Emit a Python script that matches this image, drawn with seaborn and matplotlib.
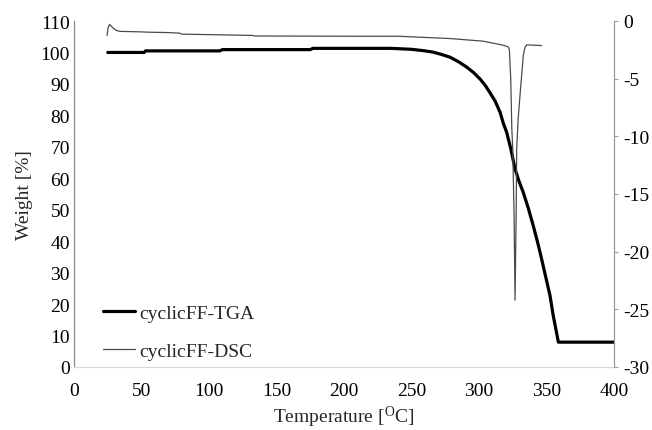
import matplotlib
matplotlib.use("Agg")
import matplotlib.pyplot as plt
import seaborn as sns
import pandas as pd

# Thermogravimetric curve: temperature [°C] vs. residual weight [%]
tga_temp = [25, 52, 53, 108, 110, 175, 177, 235, 250, 260, 266, 272, 278.5,
            285, 291, 296, 300.7, 304.5, 308, 312, 315.6, 318, 320.5, 323.5,
            326.7, 329.5, 332.8, 336.5, 340.2, 343.5, 346.4, 349.5, 352.6,
            355, 358.8, 400]
tga_weight = [100.0, 100.0, 100.5, 100.5, 100.9, 100.9, 101.3, 101.3, 101.0,
              100.5, 100.1, 99.4, 98.5, 97.0, 95.3, 93.6, 91.6, 89.6, 87.3,
              84.5, 81.0, 77.5, 74.6, 69.5, 63.0, 59.2, 55.5, 50.5, 44.9,
              39.5, 34.3, 28.5, 22.7, 16.3, 7.9, 7.9]

# Differential scanning calorimetry curve: temperature [°C] vs. heat flow
dsc_temp = [24.5, 25.2, 26.3, 28, 31, 34, 49, 55, 69, 78, 80, 132, 134, 202,
            240, 278.5, 303, 318, 321.7, 322.5, 323.5, 324.3, 325, 326,
            326.7, 327.6, 327.9, 329.0, 330.4, 332.8, 334, 335.3, 346.4]
dsc_flow = [-1.25, -0.6, -0.3, -0.5, -0.8, -0.9, -0.94, -0.97, -1.0, -1.05,
            -1.14, -1.25, -1.30, -1.32, -1.32, -1.52, -1.75, -2.1, -2.25,
            -2.5, -5.0, -9.3, -11.1, -17.0, -24.2, -16.0, -11.1, -8.5, -6.4,
            -3.0, -2.3, -2.07, -2.13]

x_ticks = [0, 50, 100, 150, 200, 250, 300, 350, 400]
left_ticks = [0, 10, 20, 30, 40, 50, 60, 70, 80, 90, 100, 110]
right_ticks = [-30, -25, -20, -15, -10, -5, 0]

tga = pd.DataFrame({"T": tga_temp, "W": tga_weight})
dsc = pd.DataFrame({"T": dsc_temp, "Q": dsc_flow})

sns.set_style("white")
plt.rcParams["font.family"] = ["Liberation Serif", "DejaVu Serif"]
plt.rcParams["mathtext.fontset"] = "custom"
plt.rcParams["mathtext.rm"] = "Liberation Serif"
plt.rcParams["mathtext.it"] = "Liberation Serif:italic"

fig = plt.figure(figsize=(6.52, 4.31), dpi=100)
ax = fig.add_axes([74 / 652, 1 - 368 / 431, 540 / 652, 346 / 431])
ax2 = ax.twinx()

sns.lineplot(data=tga, x="T", y="W", ax=ax, sort=False, color="black",
             linewidth=2.3, label="cyclicFF-TGA", legend=False)
sns.lineplot(data=dsc, x="T", y="Q", ax=ax2, sort=False, color="#4a4a4a",
             linewidth=0.9, label="cyclicFF-DSC", legend=False)

ax.set_xlim(0, 400)
ax.set_ylim(0, 110)
ax2.set_ylim(-30, 0)
ax.set_xticks(x_ticks)
ax.set_yticks(left_ticks)
ax2.set_yticks(right_ticks)
ax2.set_yticklabels([str(v) for v in right_ticks])

fs = 14
ax.tick_params(axis="x", length=0, pad=11, labelsize=fs, colors="black")
ax.tick_params(axis="y", length=0, pad=3, labelsize=fs, colors="black")
ax2.tick_params(axis="y", length=3, width=0.8, pad=3.5, labelsize=fs,
                color="#9a9a9a", labelcolor="black", direction="out")

for side in ("top", "right"):
    ax.spines[side].set_visible(False)
ax.spines["left"].set_color("#8c8c8c")
ax.spines["left"].set_linewidth(0.9)
ax.spines["bottom"].set_color("#d9d9d9")
ax.spines["bottom"].set_linewidth(0.9)
for side in ("top", "left", "bottom"):
    ax2.spines[side].set_visible(False)
ax2.spines["right"].set_color("#9a9a9a")
ax2.spines["right"].set_linewidth(0.9)

ax.set_xlabel(r"Temperature [$^{\mathrm{O}}$C]", fontsize=fs, va="center")
ax.xaxis.set_label_coords(0.5, -0.143)
ax.set_ylabel("Weight [%]", fontsize=fs, va="center")
ax.yaxis.set_label_coords(-0.092, 0.5)
ax2.set_ylabel("")
ax.grid(False)
ax2.grid(False)

handles = ax.get_lines()[:1] + ax2.get_lines()[:1]
ax.legend(handles=handles, labels=["cyclicFF-TGA", "cyclicFF-DSC"],
          loc="upper left", bbox_to_anchor=(0.0537, 0.182), frameon=False,
          borderpad=0, borderaxespad=0, handlelength=1.65,
          handletextpad=0.2, labelspacing=1.05, fontsize=fs)

fig.savefig("out.png", dpi=100, facecolor="white")
